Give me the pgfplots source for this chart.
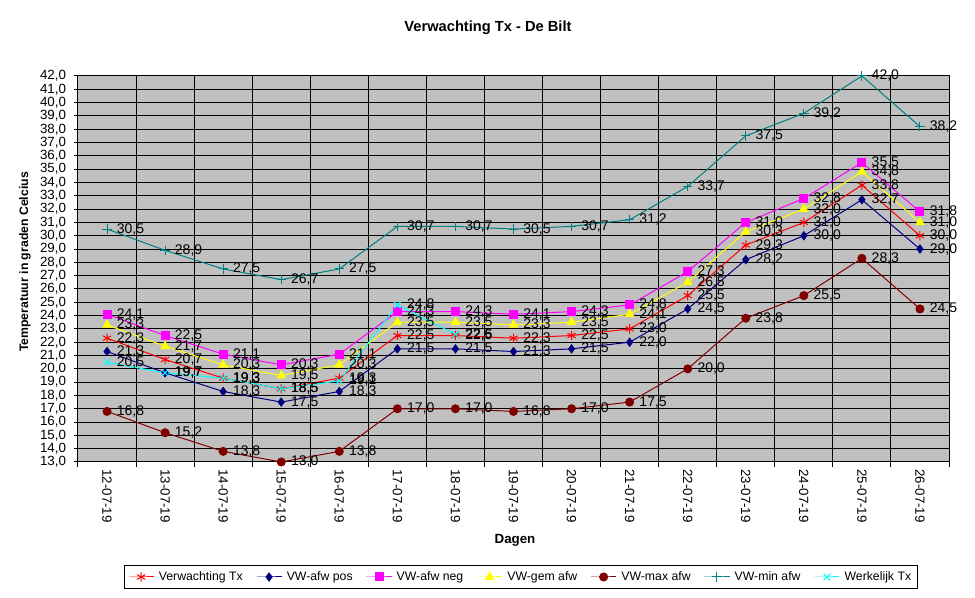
\documentclass[border=0pt]{standalone}
\usepackage{fontspec}
\setmainfont{Liberation Sans}
\usepackage{pgfplots}
\pgfplotsset{compat=1.18}
\definecolor{plotgray}{HTML}{C0C0C0}
\definecolor{cRed}{HTML}{FF0000}
\definecolor{cNavy}{HTML}{000080}
\definecolor{cMag}{HTML}{FF00FF}
\definecolor{cYel}{HTML}{FFFF00}
\definecolor{cMaroon}{HTML}{800000}
\definecolor{cTeal}{HTML}{008080}
\definecolor{cCyan}{HTML}{00FFFF}
\begin{document}
\begin{tikzpicture}
\fill[white] (-58.5pt,-102pt) rectangle (672.75pt,346.5pt);
\useasboundingbox (-58.5pt,-102pt) rectangle (672.75pt,346.5pt);
\begin{axis}[
  at={(0pt,0pt)}, anchor=south west,
  scale only axis, width=653.25pt, height=289.5pt,
  xmin=-0.5, xmax=14.5, ymin=13, ymax=42,
  xtick={0,...,14},
  xticklabels={12-07-19,13-07-19,14-07-19,15-07-19,16-07-19,17-07-19,18-07-19,19-07-19,20-07-19,21-07-19,22-07-19,23-07-19,24-07-19,25-07-19,26-07-19},
  minor xtick={-0.5,0.5,...,14.5},
  xminorgrids,
  minor x grid style={black, line width=0.75pt},
  ytick={13,...,42},
  ymajorgrids,
  major y grid style={black, line width=0.75pt},
  tick pos=left, tick align=outside,
  major x tick style={draw=none},
  minor tick length=3.75pt,
  major tick length=3pt,
  tick style={black, line width=0.75pt},
  axis line style={black, line width=0.75pt},
  axis background/.style={fill=plotgray},
  ticklabel style={font=\fontsize{10}{12}\selectfont},
  xticklabel style={rotate=-90, anchor=west, yshift=0pt, xshift=-1pt},
  yticklabel style={xshift=-2.5pt},
  /pgf/number format/fixed,
  /pgf/number format/fixed zerofill,
  /pgf/number format/precision=1,
  /pgf/number format/use comma,
  /pgf/number format/assume math mode=true,
  clip=false,
  every axis plot/.append style={line width=0.75pt},
  nodes near coords,
  every node near coord/.append style={anchor=west, xshift=6pt, text=black, font=\fontsize{10.5}{12}\selectfont, inner sep=1pt},
  legend style={at={(0.5086,-0.2979)}, anchor=center, legend columns=7, draw=black, line width=0.75pt,
    font=\fontsize{9.2}{11}\selectfont, inner sep=2.5pt,
    /tikz/every odd column/.append style={column sep=1.5pt},
    /tikz/every even column/.append style={column sep=8pt}},
  legend image code/.code={\draw[mark repeat=2,mark phase=2] plot coordinates {(0cm,0cm)(0.33cm,0cm)(0.66cm,0cm)};},
]
\addplot[color=cRed, mark=asterisk, mark size=3.5pt, mark options={solid}] coordinates {
(0,22.3)(1,20.7)(2,19.3)(3,18.5)(4,19.3)(5,22.5)(6,22.5)(7,22.3)(8,22.5)(9,23.0)(10,25.5)(11,29.3)(12,31.0)(13,33.8)(14,30.0)};
\addlegendentry{Verwachting Tx}
\addplot[color=cNavy, mark=diamond*, mark size=3pt, mark options={solid}] coordinates {
(0,21.3)(1,19.7)(2,18.3)(3,17.5)(4,18.3)(5,21.5)(6,21.5)(7,21.3)(8,21.5)(9,22.0)(10,24.5)(11,28.2)(12,30.0)(13,32.7)(14,29.0)};
\addlegendentry{VW-afw pos}
\addplot[color=cMag, mark=square*, mark size=3pt, mark options={solid}] coordinates {
(0,24.1)(1,22.5)(2,21.1)(3,20.3)(4,21.1)(5,24.3)(6,24.3)(7,24.1)(8,24.3)(9,24.8)(10,27.3)(11,31.0)(12,32.8)(13,35.5)(14,31.8)};
\addlegendentry{VW-afw neg}
\addplot[color=cYel, mark=triangle*, mark size=3.5pt, mark options={solid}] coordinates {
(0,23.3)(1,21.7)(2,20.3)(3,19.5)(4,20.3)(5,23.5)(6,23.5)(7,23.3)(8,23.5)(9,24.1)(10,26.5)(11,30.3)(12,32.0)(13,34.8)(14,31.0)};
\addlegendentry{VW-gem afw}
\addplot[color=cMaroon, mark=*, mark size=3pt, mark options={solid}] coordinates {
(0,16.8)(1,15.2)(2,13.8)(3,13.0)(4,13.8)(5,17.0)(6,17.0)(7,16.8)(8,17.0)(9,17.5)(10,20.0)(11,23.8)(12,25.5)(13,28.3)(14,24.5)};
\addlegendentry{VW-max afw}
\addplot[color=cTeal, mark=+, mark size=3.5pt, mark options={solid}] coordinates {
(0,30.5)(1,28.9)(2,27.5)(3,26.7)(4,27.5)(5,30.7)(6,30.7)(7,30.5)(8,30.7)(9,31.2)(10,33.7)(11,37.5)(12,39.2)(13,42.0)(14,38.2)};
\addlegendentry{VW-min afw}
\addplot[color=cCyan, mark=x, mark size=3.5pt, mark options={solid}] coordinates {
(0,20.5)(1,19.7)(2,19.3)(3,18.5)(4,19.1)(5,24.8)(6,22.6)};
\addlegendentry{Werkelijk Tx}
\end{axis}
\node[font=\bfseries\fontsize{11}{13}\selectfont] at (307.5pt,325.5pt) {Verwachting Tx - De Bilt};
\node[font=\bfseries\fontsize{9.2}{11}\selectfont, rotate=90] at (-39.75pt,150pt) {Temperatuur in graden Celcius};
\node[font=\bfseries\fontsize{10}{12}\selectfont] at (327.75pt,-58.5pt) {Dagen};
\end{tikzpicture}
\end{document}
